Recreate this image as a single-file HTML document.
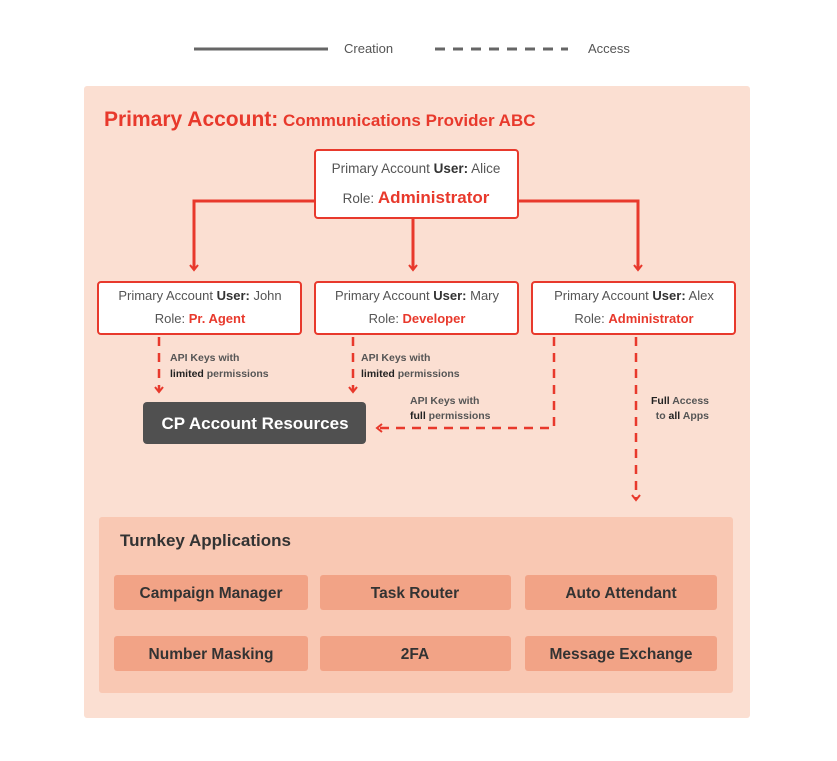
<!DOCTYPE html>
<html><head><meta charset="utf-8"><style>
html,body{margin:0;padding:0;background:#fff;}
svg{display:block;font-family:"Liberation Sans",sans-serif;}
</style></head><body>
<svg width="837" height="761" viewBox="0 0 837 761" xmlns="http://www.w3.org/2000/svg">
<defs>
<marker id="ar" markerWidth="10" markerHeight="10" refX="6" refY="5" orient="auto" markerUnits="userSpaceOnUse">
<path d="M1,1 L6,5 L1,9" fill="none" stroke="#e8392c" stroke-width="2" stroke-dasharray="none"/>
</marker>
</defs>
<line x1="194" y1="49" x2="328" y2="49" stroke="#666" stroke-width="3"/>
<text x="344" y="53" font-size="13" fill="#555">Creation</text>
<line x1="435" y1="49" x2="568" y2="49" stroke="#666" stroke-width="3" stroke-dasharray="10,8"/>
<text x="588" y="53" font-size="13" fill="#555">Access</text>

<rect x="84" y="86" width="666" height="632" rx="3" fill="#fbdfd2"/>
<text x="104" y="126" fill="#e8392c" font-weight="bold"><tspan font-size="21">Primary Account:</tspan><tspan font-size="17"> Communications Provider ABC</tspan></text>

<g stroke="#e8392c" stroke-width="3" fill="none">
<polyline points="316,201 194,201 194,270" marker-end="url(#ar)"/>
<polyline points="413,218 413,270" marker-end="url(#ar)"/>
<polyline points="517,201 638,201 638,270" marker-end="url(#ar)"/>
</g>

<rect x="315" y="150" width="203" height="68" rx="3" fill="#fff" stroke="#e8392c" stroke-width="2"/>
<text x="416" y="173" font-size="13.5" fill="#555" text-anchor="middle">Primary Account <tspan font-weight="bold" fill="#333">User:</tspan> Alice</text>
<text x="416" y="203" font-size="13.5" fill="#555" text-anchor="middle">Role: <tspan font-size="17" font-weight="bold" fill="#e8392c">Administrator</tspan></text>

<g font-size="13" fill="#555" text-anchor="middle">
<rect x="98" y="282" width="203" height="52" rx="3" fill="#fff" stroke="#e8392c" stroke-width="2"/>
<text x="200" y="300">Primary Account <tspan font-weight="bold" fill="#333">User:</tspan> John</text>
<text x="200" y="323">Role: <tspan font-weight="bold" fill="#e8392c">Pr. Agent</tspan></text>
<rect x="315" y="282" width="203" height="52" rx="3" fill="#fff" stroke="#e8392c" stroke-width="2"/>
<text x="417" y="300">Primary Account <tspan font-weight="bold" fill="#333">User:</tspan> Mary</text>
<text x="417" y="323">Role: <tspan font-weight="bold" fill="#e8392c">Developer</tspan></text>
<rect x="532" y="282" width="203" height="52" rx="3" fill="#fff" stroke="#e8392c" stroke-width="2"/>
<text x="634" y="300">Primary Account <tspan font-weight="bold" fill="#333">User:</tspan> Alex</text>
<text x="634" y="323">Role: <tspan font-weight="bold" fill="#e8392c">Administrator</tspan></text>
</g>

<g stroke="#e8392c" stroke-width="2.5" fill="none" stroke-dasharray="9,7">
<polyline points="159,337 159,392" marker-end="url(#ar)"/>
<polyline points="353,337 353,392" marker-end="url(#ar)"/>
<polyline points="554,337 554,428 377,428" marker-end="url(#ar)"/>
<polyline points="636,337 636,500" marker-end="url(#ar)"/>
</g>

<g font-size="10.5" fill="#555" font-weight="bold">
<text x="170" y="361">API Keys with</text>
<text x="170" y="377"><tspan fill="#222">limited</tspan> permissions</text>
<text x="361" y="361">API Keys with</text>
<text x="361" y="377"><tspan fill="#222">limited</tspan> permissions</text>
<text x="410" y="404">API Keys with</text>
<text x="410" y="419"><tspan fill="#222">full</tspan> permissions</text>
<text x="709" y="404" text-anchor="end"><tspan fill="#222">Full</tspan> Access</text>
<text x="709" y="419" text-anchor="end">to <tspan fill="#222">all</tspan> Apps</text>
</g>

<rect x="143" y="402" width="223" height="42" rx="4" fill="#505050"/>
<text x="255" y="429" font-size="17" font-weight="bold" fill="#fff" text-anchor="middle">CP Account Resources</text>

<rect x="99" y="517" width="634" height="176" rx="3" fill="#f9c8b3"/>
<text x="120" y="546" font-size="17" font-weight="bold" fill="#333">Turnkey Applications</text>
<g fill="#f2a386">
<rect x="114" y="575" width="194" height="35" rx="3"/>
<rect x="320" y="575" width="191" height="35" rx="3"/>
<rect x="525" y="575" width="192" height="35" rx="3"/>
<rect x="114" y="636" width="194" height="35" rx="3"/>
<rect x="320" y="636" width="191" height="35" rx="3"/>
<rect x="525" y="636" width="192" height="35" rx="3"/>
</g>
<g font-size="15.5" font-weight="bold" fill="#333" text-anchor="middle">
<text x="211" y="598">Campaign Manager</text>
<text x="415" y="598">Task Router</text>
<text x="621" y="598">Auto Attendant</text>
<text x="211" y="659">Number Masking</text>
<text x="415" y="659">2FA</text>
<text x="621" y="659">Message Exchange</text>
</g>
</svg>
</body></html>
